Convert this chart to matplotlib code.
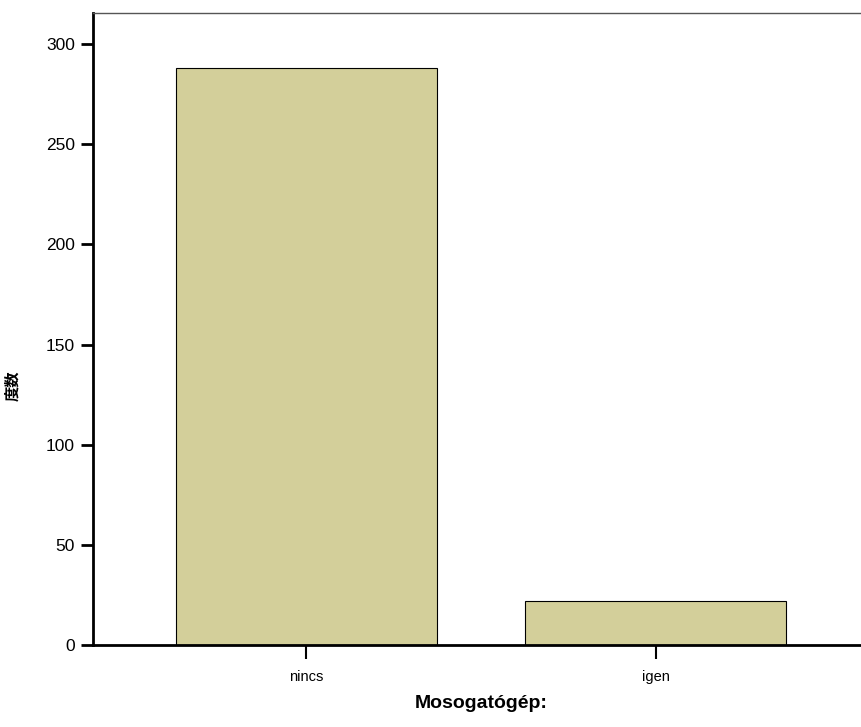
import matplotlib
matplotlib.use("Agg")
import matplotlib.pyplot as plt

categories = ["nincs", "igen"]
counts = [288, 22]
yticks = [0, 50, 100, 150, 200, 250, 300]

plt.rcParams['font.family'] = ['Liberation Sans', 'Noto Sans CJK JP', 'DejaVu Sans']

fig = plt.figure(figsize=(8.61, 7.27), dpi=100)
ax = fig.add_axes([93 / 861, 82 / 727, 776 / 861, 632 / 727])

x = range(len(categories))
ax.bar(x, counts, width=0.746, color="#d3cf9a", edgecolor="black", linewidth=0.8)

ax.set_xlim(-0.609, 1.609)
ax.set_ylim(0, 315.5)
ax.set_xticks(list(x))
ax.set_xticklabels(categories, fontsize=10.5)
ax.set_yticks(yticks)
ax.tick_params(axis="y", labelsize=12.5, length=9, width=2, direction="out", pad=4)
ax.tick_params(axis="x", length=10, width=1.5, direction="out", pad=8)

ax.spines["left"].set_linewidth(2)
ax.spines["bottom"].set_linewidth(2)
ax.spines["top"].set_color("#555555")
ax.spines["top"].set_linewidth(1)
ax.spines["right"].set_visible(False)

ax.set_xlabel("Mosogatógép:", fontsize=14, fontweight="bold", labelpad=8)
ax.set_ylabel("度数", fontsize=11, fontweight="bold", family=['Noto Sans CJK JP'])
ax.yaxis.set_label_coords(-0.094, 0.41)

fig.savefig("out.png", dpi=100)
